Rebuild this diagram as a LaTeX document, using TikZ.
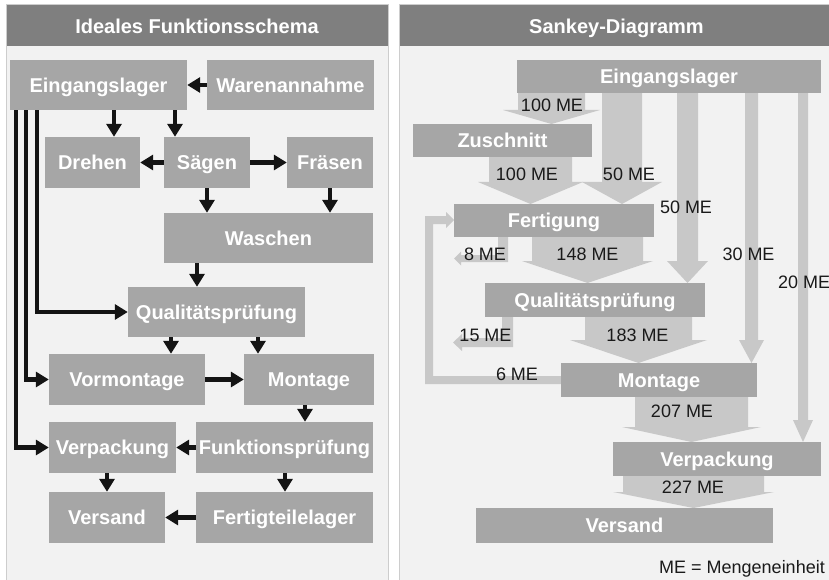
\documentclass[tikz,border=0pt]{standalone}
\usepackage{fontspec}
\setmainfont{Liberation Sans}
\usetikzlibrary{arrows.meta}

\definecolor{panelbg}{HTML}{F2F2F2}
\definecolor{panelline}{HTML}{CDCDCD}
\definecolor{headbg}{HTML}{7F7F7F}
\definecolor{boxbg}{HTML}{A6A6A6}
\definecolor{flowbg}{HTML}{C8C8C8}
\definecolor{arrowcol}{HTML}{141414}
\definecolor{labelcol}{HTML}{1A1A1A}

% downward Sankey band: left x, right x, top y, head y, tip y, head overhang
\newcommand\flowdown[6]{%
  \fill[flowbg] (#1,#3) -- (#2,#3) -- (#2,#4) -- (#2+#6,#4)
    -- ({(#1+#2)/2},#5) -- (#1-#6,#4) -- (#1,#4) -- cycle;}

\begin{document}
\begin{tikzpicture}[x=1pt,y=-1pt,
  title/.style={text=white, font=\fontsize{20}{24}\selectfont\bfseries,
    inner sep=0pt, text height=14.3pt, text depth=0pt},
  box/.style={fill=boxbg, text=white, font=\fontsize{20}{24}\selectfont\bfseries,
    inner sep=0pt, text height=14.3pt, text depth=0pt},
  flowlabel/.style={text=labelcol, font=\fontsize{18}{21}\selectfont,
    inner sep=0pt, anchor=base},
  arr/.style={draw=arrowcol, line width=4.6pt, line join=miter,
    -{Triangle[length=13pt,width=15pt]}},
]
\clip (0,0) rectangle (829,580);

% ---------- panels ----------
\draw[panelline, fill=panelbg, line width=1pt] (6,5) rectangle (388,590);
\fill[headbg] (6.5,5.5) rectangle (387.5,46);
\draw[panelline, fill=panelbg, line width=1pt] (399,5) rectangle (845,590);
\fill[headbg] (399.5,5.5) rectangle (845,46);
\node[title] (tL) at (197,26.5) {Ideales Funktionsschema};
\node[title] (tR) at (616.5,26.5) {Sankey-Diagramm};

% ---------- left: function scheme ----------
\node[box, minimum width=177pt, minimum height=50pt] (eL) at (98.5,85)   {Eingangslager};
\node[box, minimum width=167pt, minimum height=50pt] (wa) at (290.5,85)  {Warenannahme};
\node[box, minimum width=95pt,  minimum height=51pt] (dr) at (92.5,162.5) {Drehen};
\node[box, minimum width=86pt,  minimum height=51pt] (sa) at (207,162.5) {Sägen};
\node[box, minimum width=86pt,  minimum height=51pt] (fr) at (330,162.5) {Fräsen};
\node[box, minimum width=209pt, minimum height=50pt] (ws) at (268.5,238) {Waschen};
\node[box, minimum width=177pt, minimum height=50pt] (qp) at (216.5,312) {Qualitätsprüfung};
\node[box, minimum width=156pt, minimum height=51pt] (vm) at (127,379.5) {Vormontage};
\node[box, minimum width=130pt, minimum height=51pt] (mo) at (309,379.5) {Montage};
\node[box, minimum width=127pt, minimum height=51pt] (vp) at (112.5,447.5) {Verpackung};
\node[box, minimum width=177pt, minimum height=51pt] (fp) at (284.5,447.5) {Funktionsprüfung};
\node[box, minimum width=116pt, minimum height=51pt] (vs) at (107,517.5) {Versand};
\node[box, minimum width=177pt, minimum height=51pt] (fl) at (284.5,517.5) {Fertigteilelager};

\draw[arr] (wa.west) -- (eL.east);
\draw[arr] (eL.south -| 114,0) -- (dr.north -| 114,0);
\draw[arr] (eL.south -| 175,0) -- (sa.north -| 175,0);
\draw[arr] (sa.west) -- (dr.east);
\draw[arr] (sa.east) -- (fr.west);
\draw[arr] (sa.south) -- (ws.north -| sa.south);
\draw[arr] (fr.south) -- (ws.north -| fr.south);
\draw[arr] (ws.south -| 197,0) -- (qp.north -| 197,0);
\draw[arr] (eL.south -| 37,0) |- (qp.west);
\draw[arr] (qp.south -| 171,0) -- (vm.north -| 171,0);
\draw[arr] (qp.south -| 258,0) -- (mo.north -| 258,0);
\draw[arr] (eL.south -| 26,0) |- (vm.west);
\draw[arr] (vm.east) -- (mo.west);
\draw[arr] (mo.south -| 305,0) -- (fp.north -| 305,0);
\draw[arr] (eL.south -| 16,0) |- (vp.west);
\draw[arr] (fp.west) -- (vp.east);
\draw[arr] (vp.south -| 107,0) -- (vs.north -| 107,0);
\draw[arr] (fp.south -| 285,0) -- (fl.north -| 285,0);
\draw[arr] (fl.west) -- (vs.east);

% ---------- right: Sankey diagram ----------
% flows
\flowdown{518}{585}{92}{110}{124}{15}
\flowdown{489}{572}{156}{182}{204}{11}
\flowdown{602}{642}{92}{182}{204}{20}
\flowdown{677}{698}{92}{261}{283}{10}
\flowdown{745}{758}{92}{340}{363}{6}
\flowdown{798}{808}{92}{420}{442}{5}
\flowdown{532}{643}{236}{261}{283}{10}
\flowdown{585}{692}{316}{340}{363}{15}
\flowdown{635}{748}{396}{427}{442}{13}
\flowdown{623}{764}{475}{492}{508}{10}
% losses
\fill[flowbg] (498,235) -- (508,235) -- (508,262) -- (461,262) -- (461,265.5)
  -- (454,258.5) -- (461,251.5) -- (461,255) -- (498,255) -- cycle;
\fill[flowbg] (502,315) -- (513,315) -- (513,347) -- (462,347) -- (462,351)
  -- (453,342.5) -- (462,334) -- (462,338) -- (502,338) -- cycle;
% rework back to Fertigung
\fill[flowbg] (562,376) -- (562,384) -- (425,384) -- (425,216) -- (446,216)
  -- (446,212) -- (454,220) -- (446,228) -- (446,224) -- (433,224)
  -- (433,376) -- cycle;

% stations
\node[box, minimum width=304pt, minimum height=33pt] (rEl) at (669,76.5)  {Eingangslager};
\node[box, minimum width=179pt, minimum height=33pt] (rZu) at (502.5,140.5) {Zuschnitt};
\node[box, minimum width=200pt, minimum height=33pt] (rFe) at (554,220.5) {Fertigung};
\node[box, minimum width=220pt, minimum height=34pt] (rQp) at (595,300)   {Qualitätsprüfung};
\node[box, minimum width=196pt, minimum height=34pt] (rMo) at (659,380)   {Montage};
\node[box, minimum width=208pt, minimum height=34pt] (rVp) at (717,459)   {Verpackung};
\node[box, minimum width=297pt, minimum height=35pt] (rVs) at (624.5,525.5) {Versand};

% quantities
\node[flowlabel] (q1)  at (552,112)   {100 ME};
\node[flowlabel] (q2)  at (527,180)   {100 ME};
\node[flowlabel] (q3)  at (629,180)   {50 ME};
\node[flowlabel] (q4)  at (686,213)   {50 ME};
\node[flowlabel] (q5)  at (485,260)   {8 ME};
\node[flowlabel] (q6)  at (587.5,260) {148 ME};
\node[flowlabel] (q7)  at (748.5,260) {30 ME};
\node[flowlabel, anchor=base west] (q8) at (778,288) {20 ME};
\node[flowlabel] (q9)  at (485.5,341) {15 ME};
\node[flowlabel] (q10) at (637.5,341) {183 ME};
\node[flowlabel] (q11) at (517,380)   {6 ME};
\node[flowlabel] (q12) at (682,417)   {207 ME};
\node[flowlabel] (q13) at (693,493)   {227 ME};
\node[flowlabel, anchor=base east] (key) at (825,573) {ME = Mengeneinheit};
\end{tikzpicture}
\end{document}
